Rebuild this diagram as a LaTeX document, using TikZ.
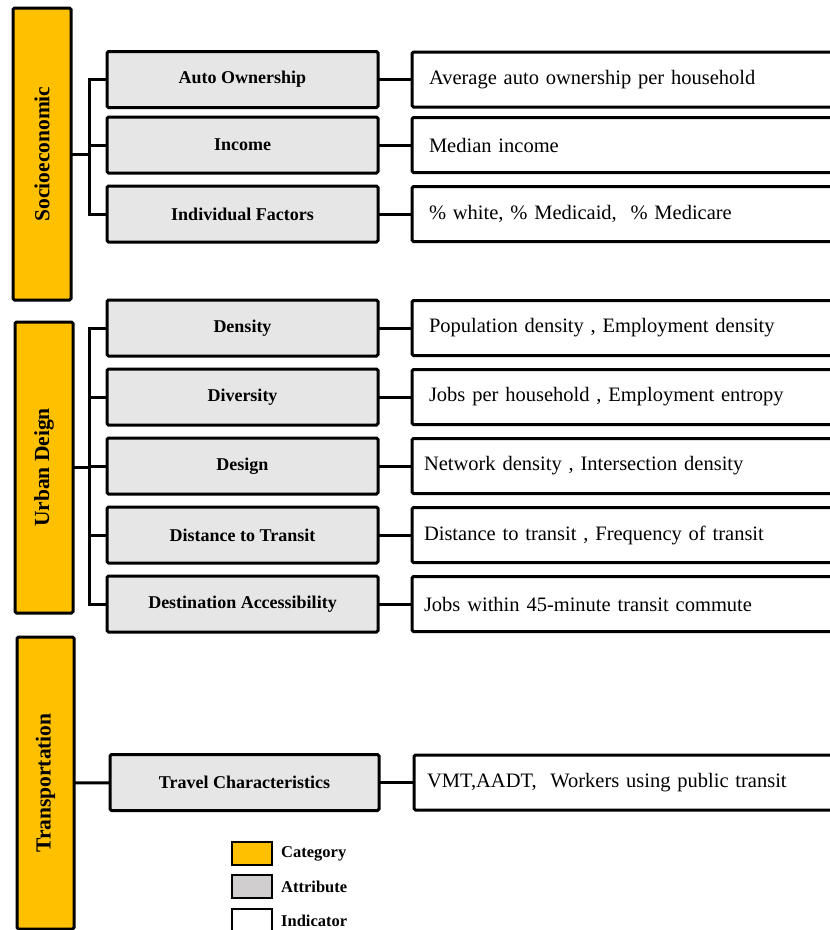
\documentclass[tikz,border=0pt]{standalone}
\usepackage{fontspec}
\setmainfont{Liberation Serif}
\usepackage{xcolor}
\usetikzlibrary{positioning}
\definecolor{catGold}{HTML}{FFC000}
\definecolor{attrGray}{HTML}{E6E6E6}
\definecolor{legendGray}{HTML}{D0CECE}
\tikzstyle{category} = [rectangle, draw, fill=catGold, line width=3pt,
rounded corners=1.5pt, outer sep=0pt, minimum width=58pt,
font=\bfseries\fontsize{21.5}{24}\selectfont]
\tikzstyle{attribute} = [rectangle, draw, fill=attrGray, line width=3pt,
rounded corners=1.5pt, outer sep=0pt, minimum width=271pt, minimum height=56pt,
font=\bfseries\fontsize{18}{21}\selectfont, node distance=69pt]
\tikzstyle{indicator} = [rectangle, draw, fill=white, line width=3pt,
rounded corners=1.5pt, outer sep=0pt, minimum height=55pt, text width=388pt,
inner xsep=17pt, align=left, font=\fontsize{20.5}{23}\selectfont]
\tikzstyle{tight} = [inner xsep=12pt, text width=398pt]
\tikzstyle{link} = [draw, line width=3pt]
\tikzstyle{swatch} = [rectangle, draw, line width=2pt, outer sep=0pt,
minimum width=40pt, minimum height=23pt]
\tikzstyle{legendText} = [inner sep=0pt, anchor=west,
font=\bfseries\fontsize{16.5}{19}\selectfont]

\begin{document}
\begin{tikzpicture}[x=1pt, y=-1pt]
	\useasboundingbox (0,0) rectangle (830,930);
	% Place nodes
	\node [category, minimum height=292pt] (socio) at (42,154) {\rotatebox{90}{Socioeconomic}};
	\node [category, minimum height=291pt] (urban) at (44,467.5) {\rotatebox{90}{Urban Deign}};
	\node [category, minimum height=292pt, minimum width=57pt] (trans) at (45.5,783) {\rotatebox{90}{Transportation}};
	%
	\node [attribute] (auto) at (242.5,79.5) {Auto Ownership};
	\node [attribute] (income) at (242.5,145) {Income};
	\node [attribute] (indiv) at (242.5,214) {Individual Factors};
	%
	\node [attribute] (dens) at (242.5,328) {Density};
	\node [attribute, below of=dens] (divers) {Diversity};
	\node [attribute, below of=divers] (design) {Design};
	\node [attribute, below of=design] (dist) {Distance to Transit};
	\node [attribute, below of=dist] (dest) {Destination Accessibility};
	%
	\node [attribute, minimum width=269pt] (travel) at (244.5,782.5) {Travel Characteristics};
	%
	\node [indicator, right=34pt of auto] (autoInd) {Average auto ownership per household};
	\node [indicator, right=34pt of income] (incomeInd) {Median income};
	\node [indicator, right=34pt of indiv] (indivInd) {\% white, \% Medicaid, \ \% Medicare};
	\node [indicator, right=34pt of dens] (densInd) {Population density , Employment density};
	\node [indicator, right=34pt of divers] (diversInd) {Jobs per household , Employment entropy};
	\node [indicator, tight, right=34pt of design] (designInd) {Network density , Intersection density};
	\node [indicator, tight, right=34pt of dist] (distInd) {Distance to transit , Frequency of transit};
	\node [indicator, tight, right=34pt of dest] (destInd) {Jobs within 45-minute transit commute};
	\node [indicator, tight, inner xsep=13pt, right=35pt of travel] (travelInd) {VMT,AADT, \ Workers using public transit};
	%
	\coordinate (socioJoint) at (89,154);
	\coordinate (urbanJoint) at (89,467.5);
	\path [link] (socio) -- (socioJoint);
	\path [link] (auto.west) -| (socioJoint) |- (indiv.west);
	\path [link] (income) -- (income -| socioJoint);
	\path [link] (urban) -- (urbanJoint);
	\path [link] (dens.west) -| (urbanJoint) |- (dest.west);
	\path [link] (divers) -- (divers -| urbanJoint);
	\path [link] (design) -- (design -| urbanJoint);
	\path [link] (dist) -- (dist -| urbanJoint);
	\path [link] (trans) -- (travel);
	%
	\path [link] (auto) -- (autoInd);
	\path [link] (income) -- (incomeInd);
	\path [link] (indiv) -- (indivInd);
	\path [link] (dens) -- (densInd);
	\path [link] (divers) -- (diversInd);
	\path [link] (design) -- (designInd);
	\path [link] (dist) -- (distInd);
	\path [link] (dest) -- (destInd);
	\path [link] (travel) -- (travelInd);
	
	% Legend
	\node [swatch, fill=catGold] (legCat) at (252,853.5) {};
	\node [swatch, fill=legendGray] (legAttr) at (252,886.5) {};
	\node [swatch, fill=white] (legInd) at (252,920.5) {};
	\node [legendText, right=9pt of legCat] (legCatText) {Category};
	\node [legendText, right=9pt of legAttr] (legAttrText) {Attribute};
	\node [legendText, right=9pt of legInd] (legIndText) {Indicator};
\end{tikzpicture}
\end{document}
